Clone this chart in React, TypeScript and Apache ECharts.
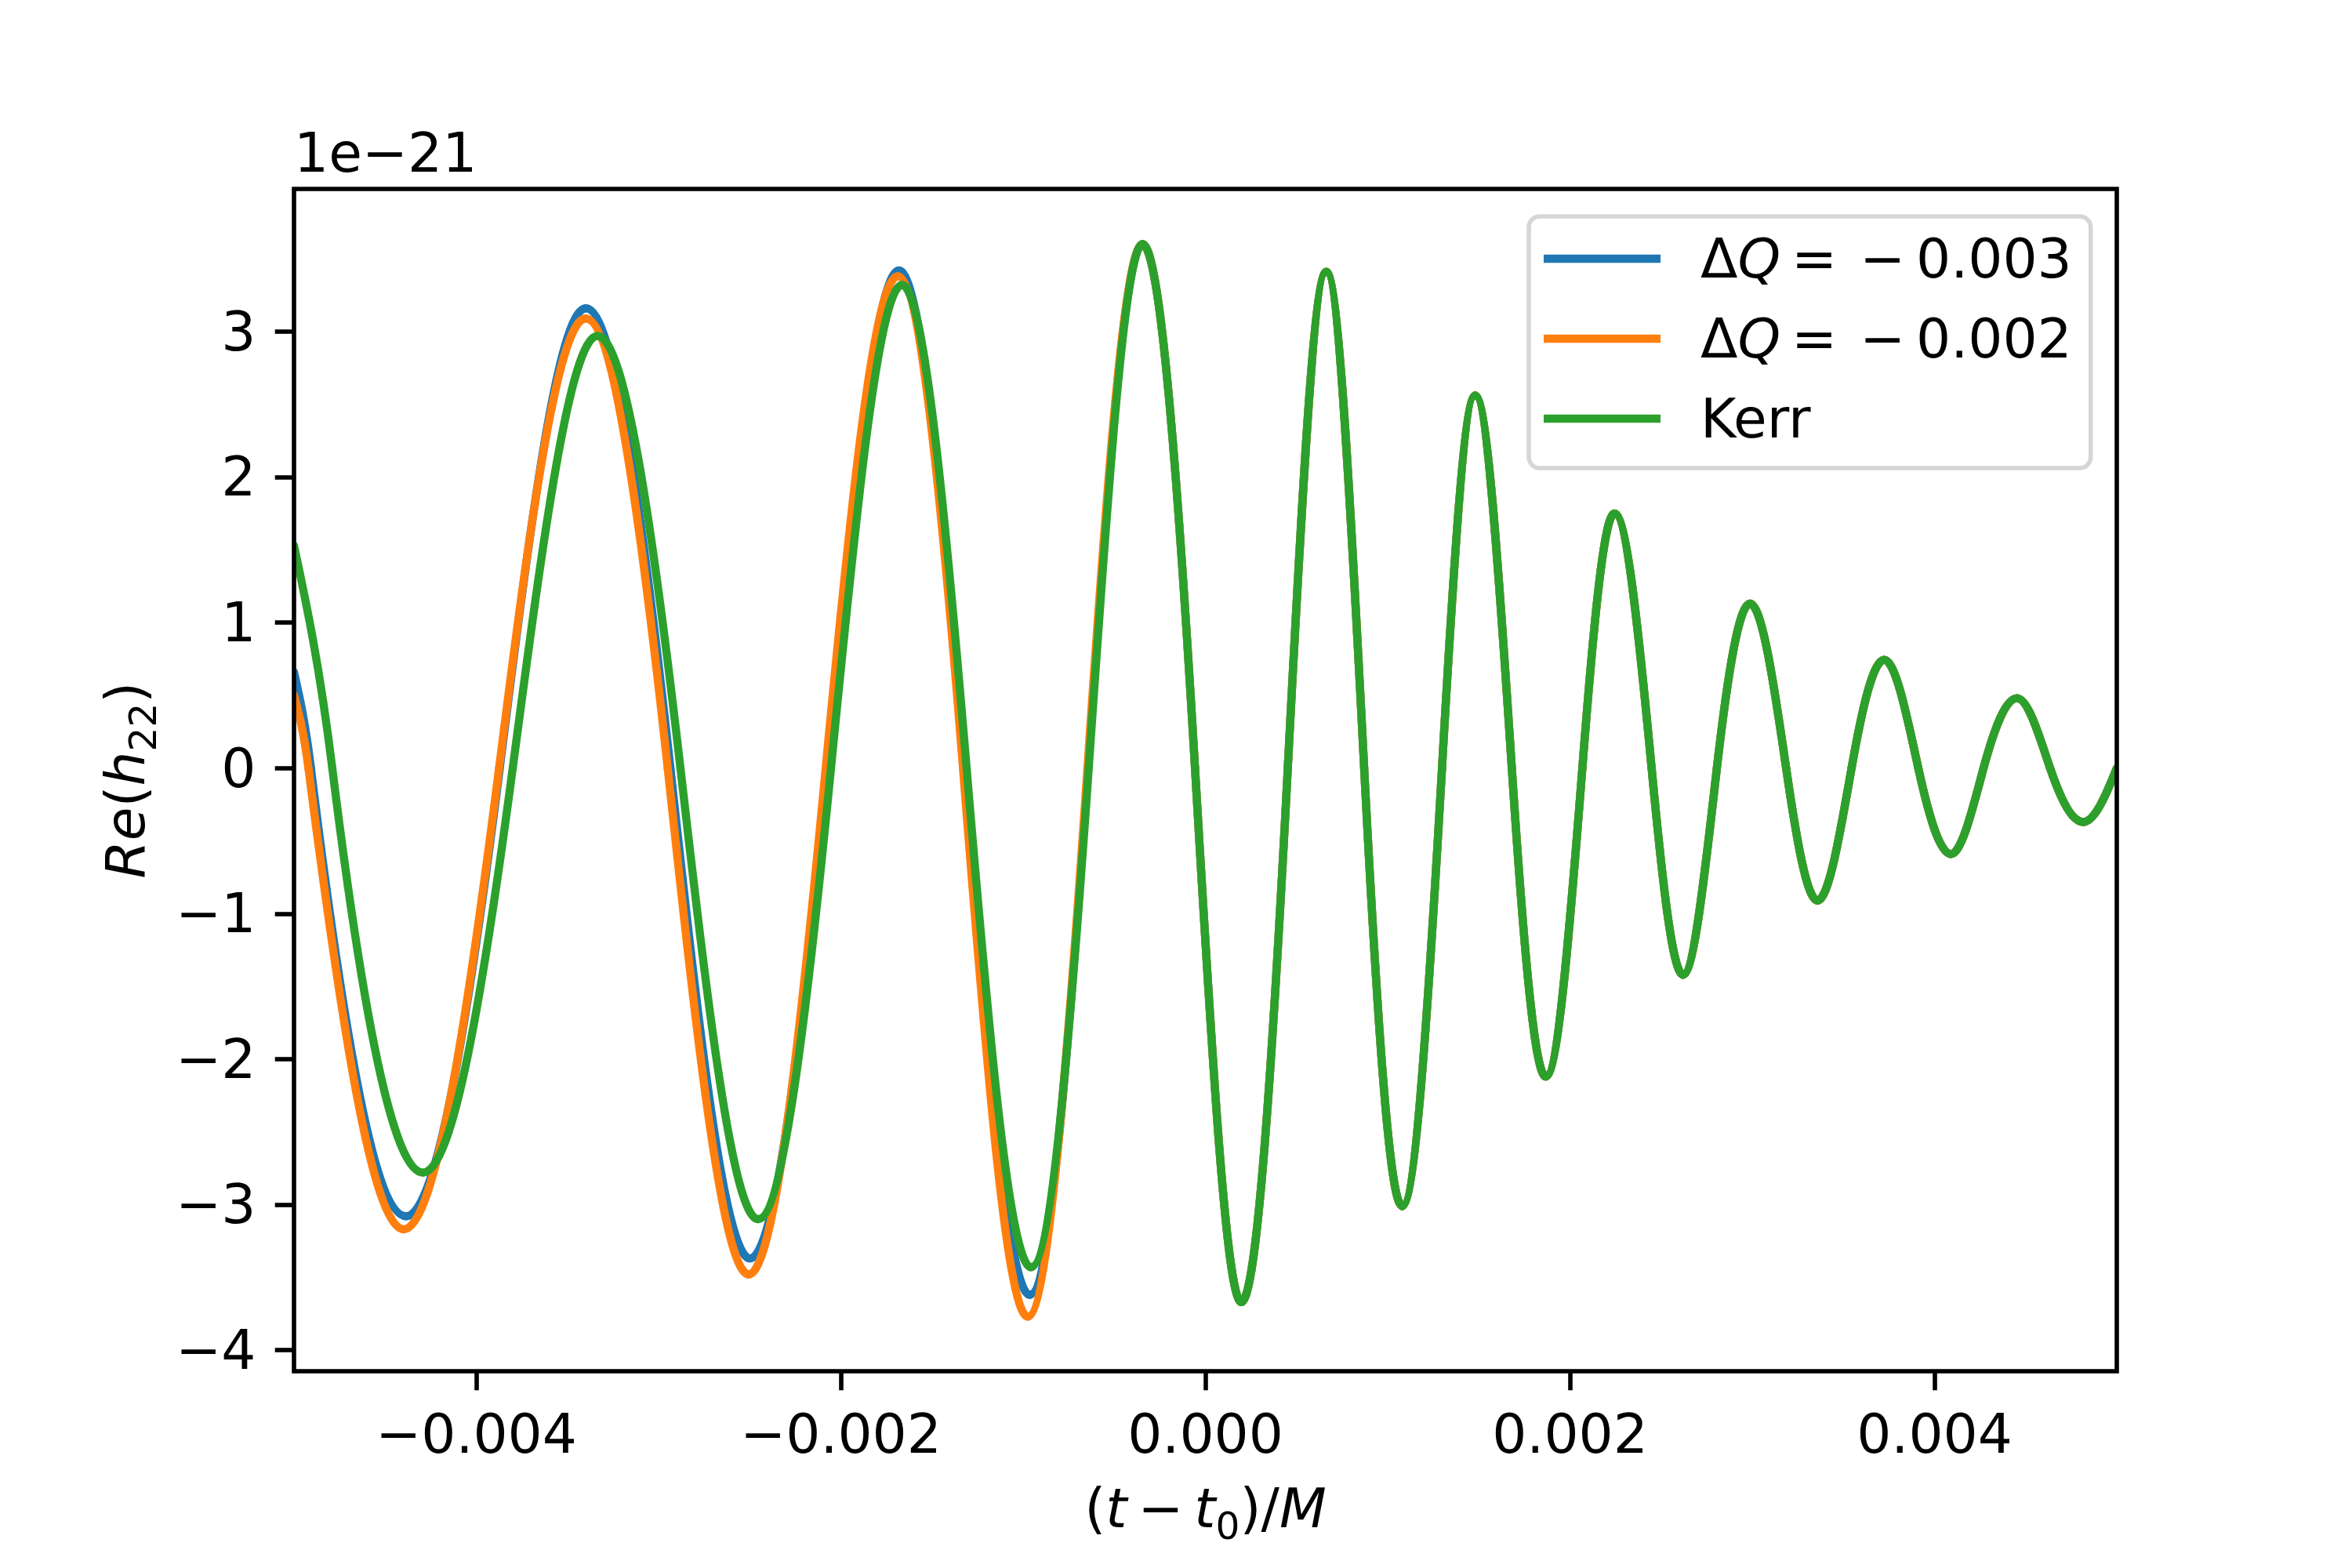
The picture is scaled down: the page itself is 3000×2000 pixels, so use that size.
import React, { useEffect, useRef } from 'react';
import * as echarts from 'echarts';

// ---------- data (t in units of M, h in units of 1e-21) ----------
// Each series: the points at the start, every zero crossing and every extremum.
const xTicks = [-0.004, -0.002, 0, 0.002, 0.004];
const yTicks = [-4, -3, -2, -1, 0, 1, 2, 3];
const xMin = -0.005;
const xMax = 0.005;
const yMin = -4.145;
const yMax = 3.98;
const offsetLabel = '1e−21';

const seriesNames = ['ΔQ = −0.003', 'ΔQ = −0.002', 'Kerr'];
const seriesColors = ['#1f77b4', '#ff7f0e', '#2ca02c'];

// ΔQ = -0.003 (inspiral part, before the curves merge)
const blueT = [-0.005, -0.004907, -0.004385, -0.003871, -0.003399, -0.002935, -0.002498, -0.002075, -0.001681, -0.001322, -0.000964, -0.000644];
const blueV = [0.66, 0, -3.08, 0, 3.16, 0, -3.37, 0, 3.42, 0, -3.62, 0];

// ΔQ = -0.002
const orangeT = [-0.005, -0.004921, -0.004398, -0.003875, -0.0034, -0.00295, -0.002505, -0.002083, -0.001688, -0.00133, -0.000975, -0.000647];
const orangeV = [0.5, 0, -3.17, 0, 3.09, 0, -3.48, 0, 3.38, 0, -3.77, 0];

// Kerr
const kerrT = [-0.005, -0.00479, -0.004292, -0.0038, -0.003335, -0.00288, -0.002454, -0.002054, -0.001664, -0.00131, -0.000957, -0.00064];
const kerrV = [1.53, 0, -2.78, 0, 2.97, 0, -3.1, 0, 3.32, 0, -3.43, 0];

// merger + ringdown, identical for all three curves
const tailT = [-0.000345, -0.000057, 0.000197, 0.000452, 0.000663, 0.000871, 0.001079, 0.001298, 0.00148, 0.001681, 0.001867, 0.002068, 0.002244, 0.002448, 0.00262, 0.002806, 0.002988, 0.003186, 0.003358, 0.003545, 0.003724, 0.003911, 0.00409, 0.004269, 0.004453, 0.004634, 0.004816, 0.005];
const tailV = [3.6, 0, -3.67, 0, 3.41, 0, -3.01, 0, 2.56, 0, -2.12, 0, 1.75, 0, -1.42, 0, 1.13, 0, -0.91, 0, 0.744, 0, -0.59, 0, 0.48, 0, -0.37, 0];

// ---------- layout ----------
const FONT = 'DejaVu Sans';
const FS = 69.4;
const GL = 375;
const GT = 241;
const GW = 2325;
const GH = 1508;
const LW = 10.4;
const SPINE = 5.6;

const fmtX = (v: number) => (v < 0 ? '−' : '') + Math.abs(v).toFixed(3);
const fmtY = (v: number) => (v < 0 ? '−' + String(-v) : String(v));

const base = { fontFamily: FONT, fontSize: FS, color: '#000' };
const mathRich = {
  n: { ...base },
  i: { ...base, fontStyle: 'italic' },
  s: { fontFamily: FONT, fontSize: 48.6, color: '#000', padding: [44, 0, 0, 0] },
};

// renders the waveform through its zero crossings and extrema as a smooth wave
function makeRenderItem(T: number[], V: number[], color: string) {
  return (params: any, api: any) => {
    const i = params.dataIndex;
    if (i === 0) return null;
    const n = T.length;
    const P = (k: number) => api.coord([T[k], V[k]]);
    const chord = (a: number, b: number) => {
      const pa = P(a);
      const pb = P(b);
      return (pb[1] - pa[1]) / (pb[0] - pa[0]);
    };
    const inner = (k: number) => {
      if (V[k] !== 0) return 0;
      if (k === n - 1) return (Math.PI / 2) * chord(n - 2, n - 1);
      return (Math.PI / 2) * (chord(k - 1, k) + chord(k, k + 1)) / 2;
    };
    const slope = (k: number) => {
      if (k === 0) {
        const c = chord(0, 1);
        const s = (3 * c - inner(1)) / 2;
        return s * c > 0 ? s : 0;
      }
      return inner(k);
    };
    const p0 = P(i - 1);
    const p1 = P(i);
    const dx = p1[0] - p0[0];
    const m0 = slope(i - 1);
    const m1 = slope(i);
    return {
      type: 'bezierCurve',
      shape: {
        x1: p0[0], y1: p0[1],
        x2: p1[0], y2: p1[1],
        cpx1: p0[0] + dx / 3, cpy1: p0[1] + (m0 * dx) / 3,
        cpx2: p1[0] - dx / 3, cpy2: p1[1] - (m1 * dx) / 3,
      },
      style: { stroke: color, lineWidth: LW, fill: null, lineCap: 'round', lineJoin: 'round' },
    };
  };
}

export default function App() {
  const ref = useRef<HTMLDivElement>(null);
  useEffect(() => {
    if (!ref.current) return;
    const chart = echarts.init(ref.current, null, { renderer: 'svg' });
    const curves = [
      { T: blueT.concat(tailT), V: blueV.concat(tailV) },
      { T: orangeT.concat(tailT), V: orangeV.concat(tailV) },
      { T: kerrT.concat(tailT), V: kerrV.concat(tailV) },
    ];
    const option: any = {
      animation: false,
      backgroundColor: '#ffffff',
      textStyle: { fontFamily: FONT },
      grid: { left: GL, top: GT, width: GW, height: GH, containLabel: false, outerBoundsMode: 'none', show: false },
      xAxis: {
        type: 'value',
        min: xMin,
        max: xMax,
        axisLine: { show: false, onZero: false },
        axisTick: { show: true, inside: false, length: 24.3, lineStyle: { color: '#000', width: SPINE }, customValues: xTicks },
        axisLabel: { show: true, customValues: xTicks, margin: 45, fontSize: FS, fontFamily: FONT, color: '#000', formatter: fmtX },
        splitLine: { show: false },
      },
      yAxis: {
        type: 'value',
        min: yMin,
        max: yMax,
        axisLine: { show: false, onZero: false },
        axisTick: { show: true, inside: false, length: 24.3, lineStyle: { color: '#000', width: SPINE }, customValues: yTicks },
        axisLabel: { show: true, customValues: yTicks, margin: 48.6, fontSize: FS, fontFamily: FONT, color: '#000', formatter: fmtY },
        splitLine: { show: false },
      },
      legend: {
        orient: 'vertical',
        left: 1950,
        top: 276,
        padding: [14, 24, 23, 19],
        itemWidth: 149,
        itemHeight: LW,
        itemGap: 22,
        icon: 'rect',
        selectedMode: false,
        backgroundColor: '#ffffff',
        borderColor: '#d6d6d6',
        borderWidth: SPINE,
        borderRadius: 14,
        itemStyle: { borderWidth: 0 },
        data: seriesNames,
        textStyle: {
          fontFamily: FONT,
          fontSize: FS,
          color: '#000',
          lineHeight: 80,
          padding: [0, 0, 0, 46],
          rich: {
            n: { fontFamily: FONT, fontSize: FS, color: '#000', lineHeight: 80 },
            i: { fontFamily: FONT, fontSize: FS, color: '#000', lineHeight: 80, fontStyle: 'italic' },
          },
        },
        formatter: (name: string) => {
          if (name.startsWith('ΔQ')) {
            const val = name.split('−')[1];
            return '{n|Δ}{i|Q}{n|\u2009= \u200A−\u2009' + val + '}';
          }
          return '{n|' + name + '}';
        },
      },
      series: curves.map((c, i) => ({
        type: 'custom',
        name: seriesNames[i],
        coordinateSystem: 'cartesian2d',
        dimensions: ['t', 'h'],
        encode: { x: 0, y: 1 },
        data: c.T.map((t, k) => [t, c.V[k]]),
        clip: true,
        silent: true,
        itemStyle: { color: seriesColors[i] },
        renderItem: makeRenderItem(c.T, c.V, seriesColors[i]),
      })),
      graphic: [
        {
          type: 'rect',
          z: 100,
          silent: true,
          shape: { x: GL, y: GT, width: GW, height: GH },
          style: { fill: 'none', stroke: '#000', lineWidth: SPINE },
        },
        {
          type: 'text',
          z: 100,
          x: GL,
          y: 195,
          style: { text: offsetLabel, fontFamily: FONT, fontSize: FS, fill: '#000', align: 'left', verticalAlign: 'middle' },
        },
        {
          type: 'text',
          z: 100,
          x: GL + GW / 2,
          y: 1924,
          style: {
            text: '{n|(}{i|t}{n|\u2009−\u2009}{i|t}{s|0}{n|)/}{i|M}',
            rich: mathRich,
            fontFamily: FONT,
            fontSize: FS,
            fill: '#000',
            align: 'center',
            verticalAlign: 'middle',
          },
        },
        {
          type: 'text',
          z: 100,
          x: 160,
          y: GT + GH / 2,
          rotation: Math.PI / 2,
          style: {
            text: '{i|Re}{n|(}{i|h}{s|22}{n|)}',
            rich: mathRich,
            fontFamily: FONT,
            fontSize: FS,
            fill: '#000',
            align: 'center',
            verticalAlign: 'middle',
          },
        },
      ],
    };
    chart.setOption(option);
    return () => chart.dispose();
  }, []);
  return <div ref={ref} style={{ position: 'absolute', left: 0, top: 0, width: 3000, height: 2000, background: '#fff' }} />;
}
